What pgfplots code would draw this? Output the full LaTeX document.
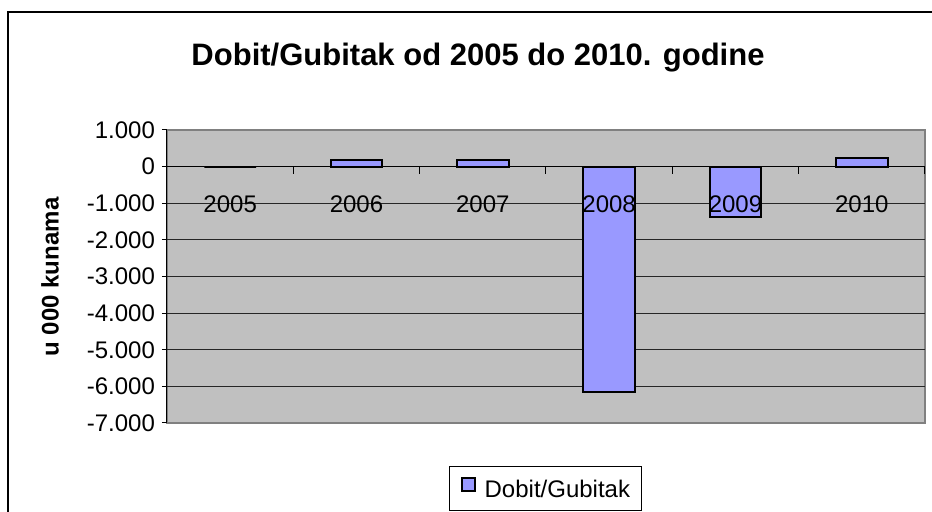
\documentclass[border=0pt]{standalone}
\usepackage{pgfplots}
\pgfplotsset{compat=1.18}
\usepackage{fontspec}
\setmainfont{Liberation Sans}
\definecolor{plotgray}{HTML}{C0C0C0}
\definecolor{bordergray}{HTML}{808080}
\definecolor{barblue}{HTML}{9999FF}
\pgfplotsset{
  chartgeom/.style={
    at={(83.5pt,44.5pt)}, anchor=south west,
    scale only axis, width=379pt, height=146.5pt,
    xmin=-0.5, xmax=5.5, ymin=-7000, ymax=1000,
  },
}
\begin{document}
\begin{tikzpicture}
\useasboundingbox (0,0) rectangle (466pt,256pt);
\clip (0,0) rectangle (466pt,256pt);
\draw[black, line width=1pt] (4pt,-10pt) rectangle (480pt,250pt);
\node[font=\bfseries\fontsize{15.5}{18}\selectfont, anchor=base] at (239pt,223pt) {Dobit/Gubitak od 2005 do 2010. godine};
\node[font=\bfseries\fontsize{12}{14}\selectfont, rotate=90] at (25pt,117.5pt) {u 000 kunama};
\begin{axis}[
  chartgeom,
  axis x line*=middle, axis y line*=left,
  axis line style={-, black, line width=0.5pt},
  axis background/.style={fill=plotgray, draw=bordergray, line width=0.75pt},
  ybar, bar width=0.41,
  xtick={0,1,2,3,4,5},
  xticklabels={},
  major x tick style={draw=none},
  minor xtick={-0.5,0.5,1.5,2.5,3.5,4.5,5.5},
  minor x tick style={black, line width=0.5pt},
  minor tick length=3.5pt,
  xtick align=outside,
  ytick={-6000,-5000,-4000,-3000,-2000,-1000,0},
  extra y ticks={-7000,1000},
  extra y tick style={grid=none},
  ytick align=outside,
  major tick length=2.5pt,
  y tick style={black, line width=0.5pt},
  ymajorgrids,
  major grid style={black!85, line width=0.5pt},
  /pgf/number format/assume math mode=true,
  /pgf/number format/1000 sep={.},
  yticklabel style={font=\fontsize{12}{14}\selectfont},
  legend style={at={(0.4993,-0.2235)}, anchor=center, draw=black, line width=0.5pt,
    font=\fontsize{12}{14}\selectfont, inner xsep=5.5pt, inner ysep=5pt,
    column sep=4.5pt, nodes={inner sep=0pt}},
]
\addplot[fill=barblue, draw=black, line width=1pt,
  legend image code/.code={\draw[fill=barblue, draw=black, line width=0.9pt] (0pt,-0.3pt) rectangle (6.5pt,6.2pt);}]
  coordinates {(0,0) (1,190) (2,180) (3,-6150) (4,-1375) (5,235)};
\addlegendentry{Dobit/Gubitak}
\end{axis}
% overlay axis: category labels drawn above the bars
\begin{axis}[
  chartgeom,
  axis x line*=middle, axis y line=none,
  x axis line style={draw=none},
  xtick={0,1,2,3,4,5},
  xticklabels={2005,2006,2007,2008,2009,2010},
  major x tick style={draw=none},
  ytick=\empty,
  xticklabel style={font=\fontsize{12}{14}\selectfont, anchor=center, yshift=-19pt},
]
\end{axis}
\end{tikzpicture}
\end{document}
